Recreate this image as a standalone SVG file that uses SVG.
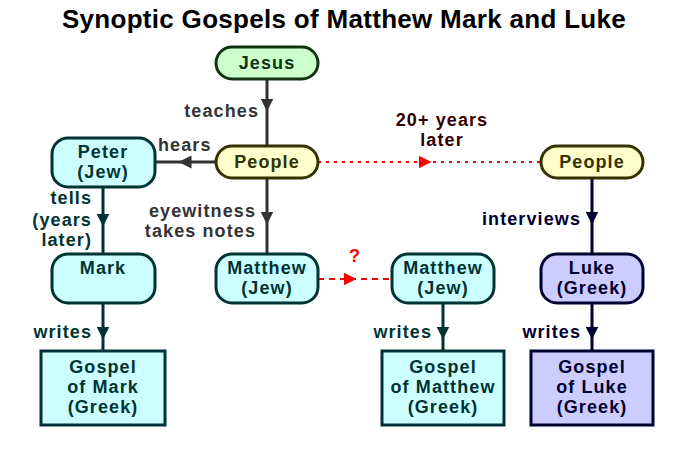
<svg xmlns="http://www.w3.org/2000/svg" width="688" height="460" viewBox="0 0 688 460">
<style>
text{font-family:"Liberation Sans",Arial,sans-serif;font-weight:bold;font-size:18px;letter-spacing:1.1px}
.c{text-anchor:middle}.r{text-anchor:end}
.n rect{stroke-width:3}
.g{fill:#333333}.t{fill:#003333}.b{fill:#000033}
</style>
<defs>
<marker id="ag" viewBox="0 0 10 10" refX="5" refY="5" markerWidth="13" markerHeight="13" markerUnits="userSpaceOnUse" orient="auto"><path d="M0,0L10,5L0,10z" fill="#333333"/></marker>
<marker id="at" viewBox="0 0 10 10" refX="5" refY="5" markerWidth="13" markerHeight="13" markerUnits="userSpaceOnUse" orient="auto"><path d="M0,0L10,5L0,10z" fill="#003333"/></marker>
<marker id="ab" viewBox="0 0 10 10" refX="5" refY="5" markerWidth="13" markerHeight="13" markerUnits="userSpaceOnUse" orient="auto"><path d="M0,0L10,5L0,10z" fill="#000033"/></marker>
<marker id="ar" viewBox="0 0 10 10" refX="5" refY="5" markerWidth="13" markerHeight="13" markerUnits="userSpaceOnUse" orient="auto"><path d="M0,0L10,5L0,10z" fill="#ff0000"/></marker>
</defs>
<rect width="688" height="460" fill="#fff"/>
<text class="c" x="344" y="28" style="font-size:26px;letter-spacing:0.3px" fill="#000">Synoptic Gospels of Matthew Mark and Luke</text>
<g id="connectors" fill="none" stroke-width="3">
<path d="M267,79V105" stroke="#333" marker-end="url(#ag)"/><path d="M267,105V146" stroke="#333"/>
<path d="M216,162H185" stroke="#333" marker-end="url(#ag)"/><path d="M185,162H155" stroke="#333"/>
<path d="M267,178V218" stroke="#333" marker-end="url(#ag)"/><path d="M267,218V254" stroke="#333"/>
<path d="M103,187V220" stroke="#003333" marker-end="url(#at)"/><path d="M103,220V254" stroke="#003333"/>
<path d="M103,303V333" stroke="#003333" marker-end="url(#at)"/><path d="M103,333V351" stroke="#003333"/>
<path d="M443,303V333" stroke="#003333" marker-end="url(#at)"/><path d="M443,333V351" stroke="#003333"/>
<path d="M592,178V218" stroke="#000033" marker-end="url(#ab)"/><path d="M592,218V254" stroke="#000033"/>
<path d="M592,303V333" stroke="#000033" marker-end="url(#ab)"/><path d="M592,333V351" stroke="#000033"/>
<path d="M318,162H425" stroke="#f00" stroke-width="2" stroke-dasharray="3,5" marker-end="url(#ar)"/><path d="M425,162H541" stroke="#f00" stroke-width="2" stroke-dasharray="3,5"/>
<path d="M318,279H350" stroke="#f00" stroke-width="2" stroke-dasharray="6,5" marker-end="url(#ar)"/><path d="M350,279H392" stroke="#f00" stroke-width="2" stroke-dasharray="6,5"/>
</g>
<g id="labels">
<text class="r g" x="259" y="117">teaches</text>
<text class="g" x="158" y="151">hears</text>
<text class="r g" x="256" y="217">eyewitness</text>
<text class="r g" x="256" y="237">takes notes</text>
<text class="r t" x="92" y="204">tells</text>
<text class="r t" x="92" y="226">(years</text>
<text class="r t" x="92" y="246">later)</text>
<text class="r t" x="92" y="338">writes</text>
<text class="r t" x="432" y="338">writes</text>
<text class="r b" x="581" y="338">writes</text>
<text class="r b" x="581" y="225">interviews</text>
<text class="c" x="442" y="126" fill="#330000">20+ years</text>
<text class="c" x="442" y="146" fill="#330000">later</text>
<text class="c" x="355" y="262" fill="#f00">?</text>
</g>
<g id="jesus" class="n"><rect x="216" y="47" width="102" height="32" rx="16" fill="#ccffcc" stroke="#113311"/><text class="c" x="267" y="69" fill="#113311">Jesus</text></g>
<g id="people1" class="n"><rect x="216" y="146" width="102" height="32" rx="16" fill="#ffffcc" stroke="#333300"/><text class="c" x="267" y="168" fill="#333300">People</text></g>
<g id="people2" class="n"><rect x="541" y="146" width="102" height="32" rx="16" fill="#ffffcc" stroke="#333300"/><text class="c" x="592" y="168" fill="#333300">People</text></g>
<g id="peter" class="n"><rect x="52" y="138" width="103" height="49" rx="16" fill="#ccffff" stroke="#003333"/><text class="c t" x="103" y="158">Peter</text><text class="c t" x="103" y="178">(Jew)</text></g>
<g id="mark" class="n"><rect x="52" y="254" width="103" height="49" rx="16" fill="#ccffff" stroke="#003333"/><text class="c t" x="103" y="274">Mark</text></g>
<g id="matthew1" class="n"><rect x="216" y="254" width="102" height="49" rx="16" fill="#ccffff" stroke="#003333"/><text class="c t" x="267" y="274">Matthew</text><text class="c t" x="267" y="294">(Jew)</text></g>
<g id="matthew2" class="n"><rect x="392" y="254" width="102" height="49" rx="16" fill="#ccffff" stroke="#003333"/><text class="c t" x="443" y="274">Matthew</text><text class="c t" x="443" y="294">(Jew)</text></g>
<g id="luke" class="n"><rect x="541" y="254" width="102" height="49" rx="16" fill="#ccccff" stroke="#000033"/><text class="c b" x="592" y="274">Luke</text><text class="c b" x="592" y="294">(Greek)</text></g>
<g id="gmark" class="n"><rect x="41" y="351" width="124" height="74" fill="#ccffff" stroke="#003333"/><text class="c t" x="103" y="373">Gospel</text><text class="c t" x="103" y="393">of Mark</text><text class="c t" x="103" y="413">(Greek)</text></g>
<g id="gmatthew" class="n"><rect x="382" y="351" width="122" height="74" fill="#ccffff" stroke="#003333"/><text class="c t" x="443" y="373">Gospel</text><text class="c t" x="443" y="393">of Matthew</text><text class="c t" x="443" y="413">(Greek)</text></g>
<g id="gluke" class="n"><rect x="531" y="351" width="122" height="74" fill="#ccccff" stroke="#000033"/><text class="c b" x="592" y="373">Gospel</text><text class="c b" x="592" y="393">of Luke</text><text class="c b" x="592" y="413">(Greek)</text></g>
</svg>
